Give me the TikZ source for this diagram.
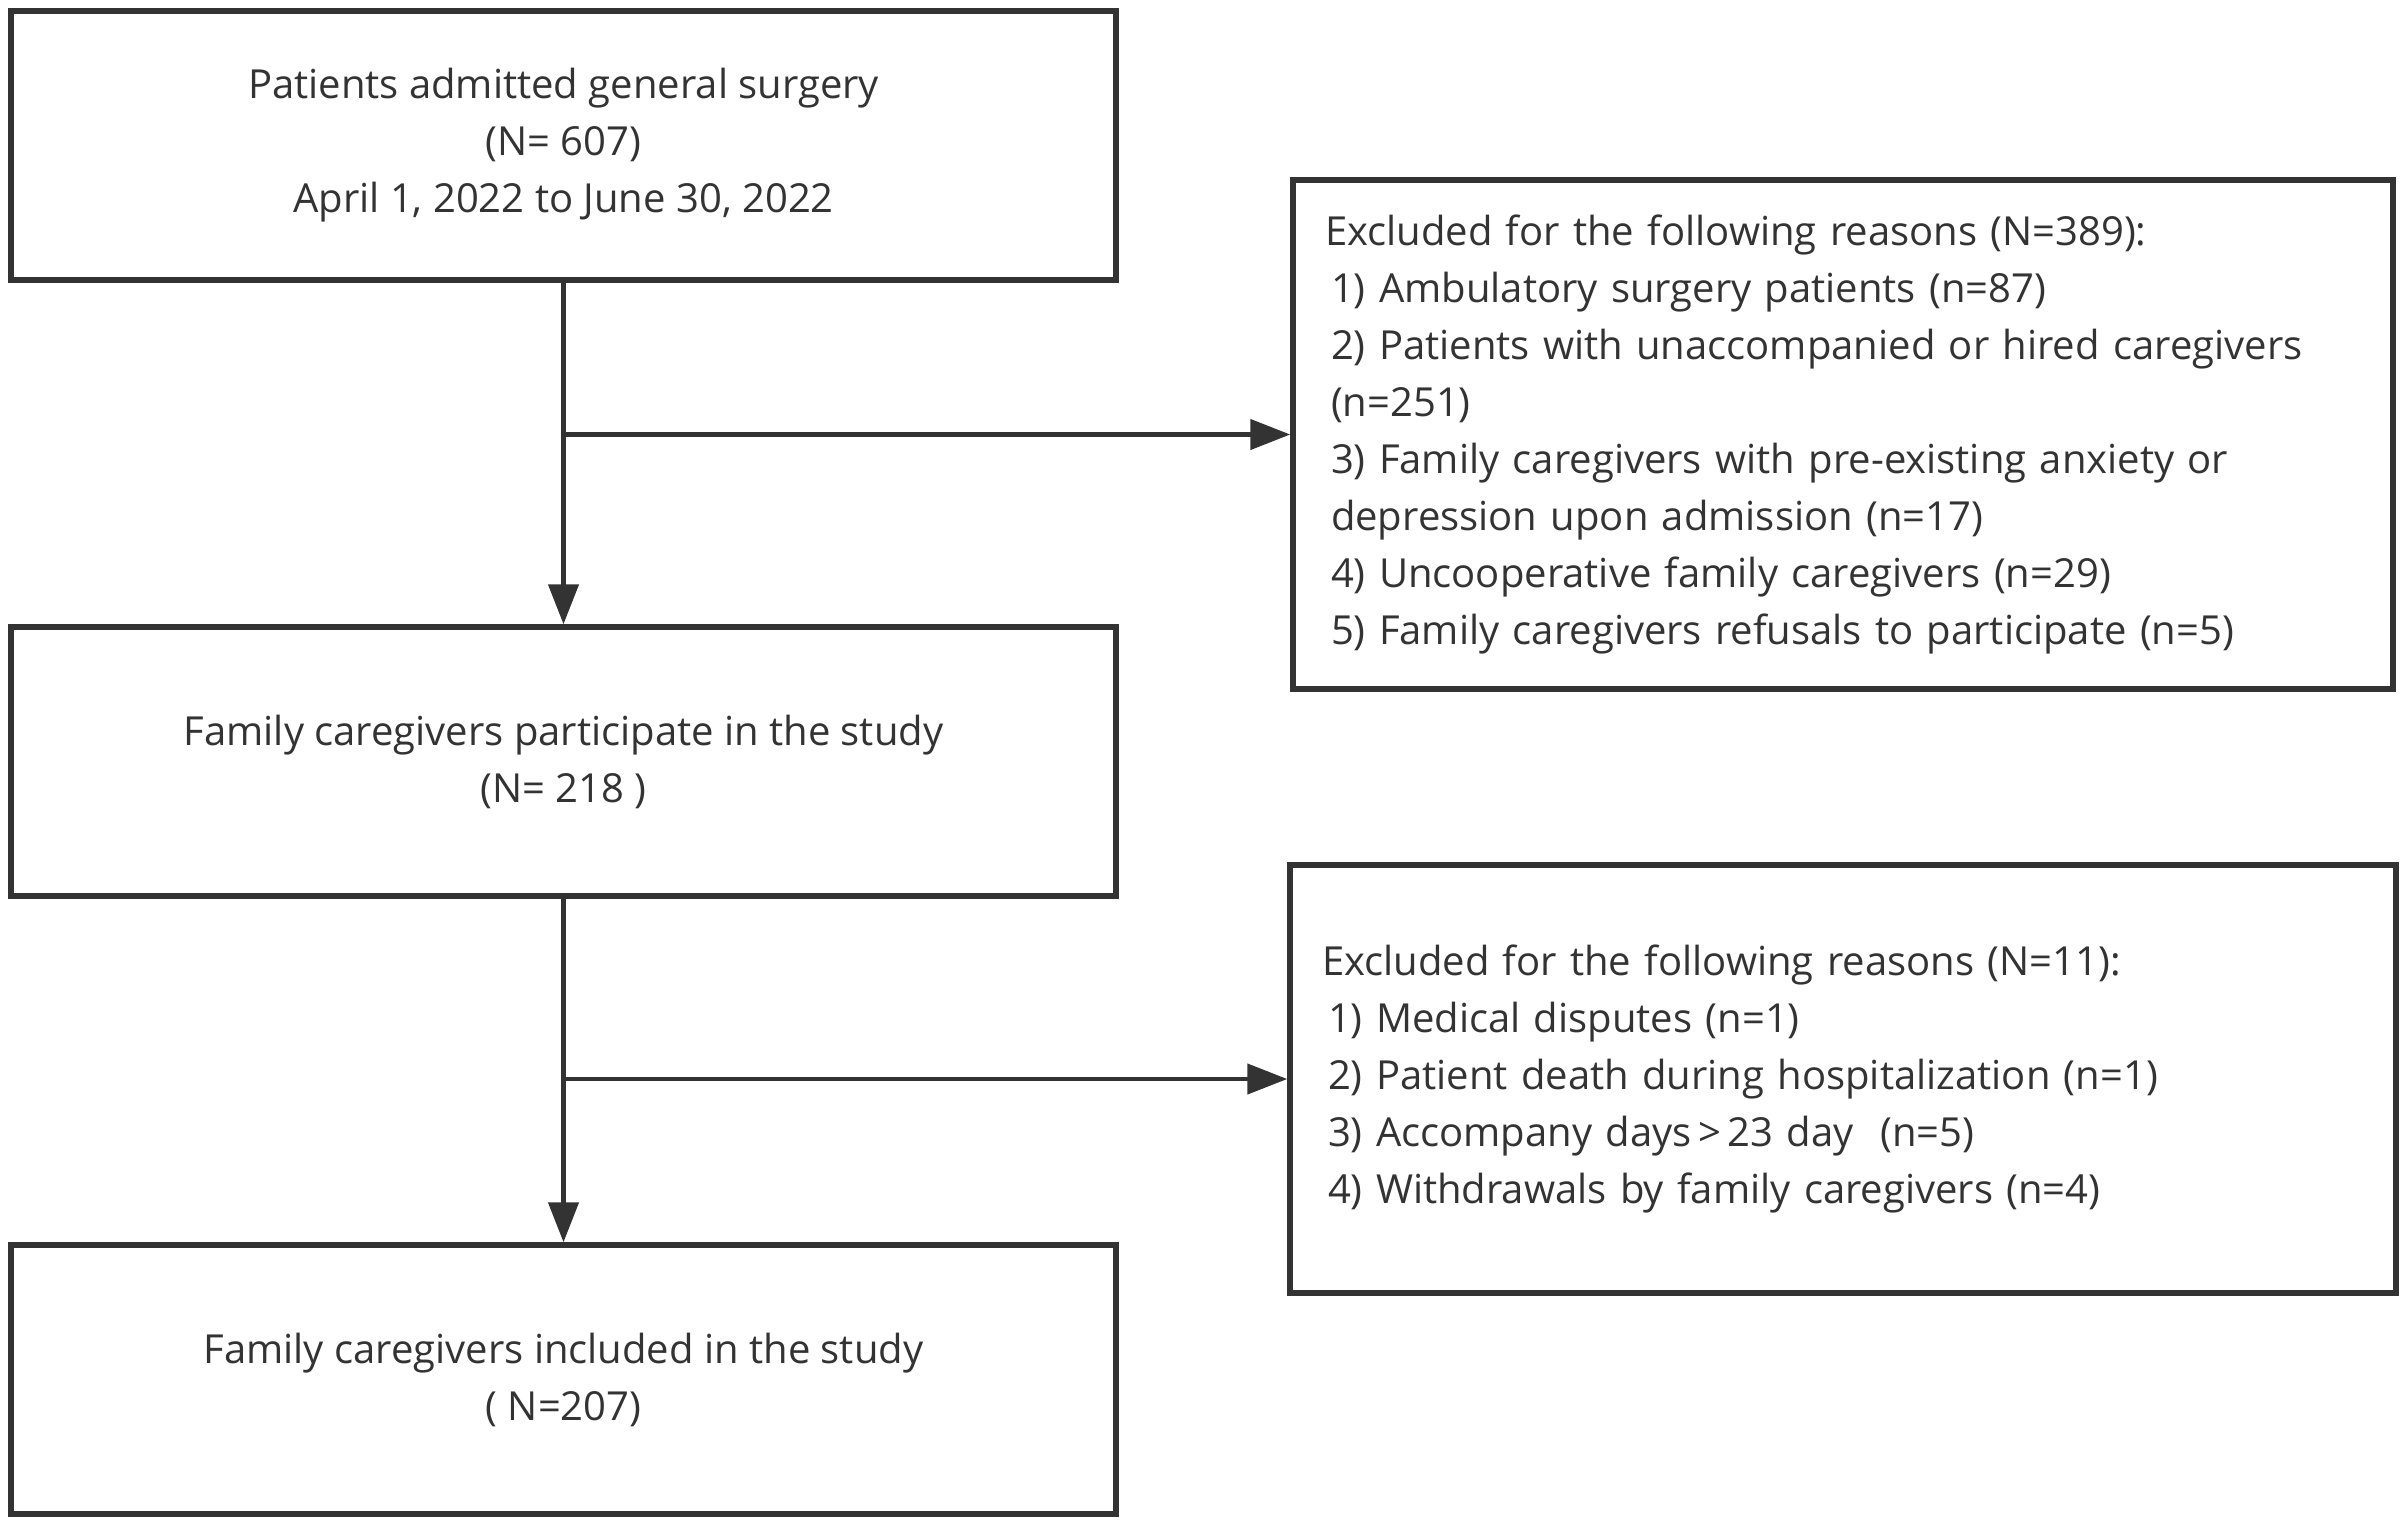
\documentclass[tikz,border=0pt]{standalone}
\usepackage{fontspec}
\setmainfont{Open Sans}
\usetikzlibrary{arrows.meta}
\definecolor{ink}{HTML}{333333}
\begin{document}
\begin{tikzpicture}[x=1pt,y=-1pt,
  box/.style={draw=ink,line width=5.5pt,rectangle,inner sep=0pt,text=ink,
    minimum width=1105pt,minimum height=269pt,align=center,
    font=\fontsize{40}{57}\selectfont},
  exbox/.style={draw=ink,line width=5.5pt,rectangle,inner xsep=32pt,inner ysep=0pt,text=ink,
    align=left,font=\fontsize{40}{57}\selectfont},
  conn/.style={draw=ink,line width=4.5pt},
  arr/.style={conn,-{Triangle[length=40pt,width=30pt]}}]
\useasboundingbox[fill=white] (0,0) rectangle (2401,1521);
\node[box] (b1) at (563.5,145.5) {Patients admitted general surgery\\(N= 607)\\April 1, 2022 to June 30, 2022};
\node[box] (b2) at (563.5,761.5) {Family caregivers participate in the study\\(N= 218 )};
\node[box] (b3) at (563.5,1379.5) {Family caregivers included in the study\\( N=207)};
\node[exbox,minimum width=1100pt,minimum height=509pt,text width=1036pt] (e1) at (1843,434.5) {Excluded for the following reasons (N=389):\\
\hspace*{6pt}1) Ambulatory surgery patients (n=87)\\
\hspace*{6pt}2) Patients with unaccompanied or hired caregivers\\
\hspace*{6pt}(n=251)\\
\hspace*{6pt}3) Family caregivers with pre-existing anxiety or\\
\hspace*{6pt}depression upon admission (n=17)\\
\hspace*{6pt}4) Uncooperative family caregivers (n=29)\\
\hspace*{6pt}5) Family caregivers refusals to participate (n=5)};
\node[exbox,minimum width=1106pt,minimum height=428pt,text width=1042pt] (e2) at (1843,1079) {Excluded for the following reasons (N=11):\\
\hspace*{6pt}1) Medical disputes (n=1)\\
\hspace*{6pt}2) Patient death during hospitalization (n=1)\\
\hspace*{6pt}3) Accompany days\,>\,23 day\ \ (n=5)\\
\hspace*{6pt}4) Withdrawals by family caregivers (n=4)};
\coordinate (j1) at (b1.south |- e1.west);
\coordinate (j2) at (b2.south |- e2.west);
\draw[arr] (b1.south) -- (b2.north);
\draw[arr] (b2.south) -- (b3.north);
\draw[arr] (j1) -- (e1.west);
\draw[arr] (j2) -- (e2.west);
\end{tikzpicture}
\end{document}
